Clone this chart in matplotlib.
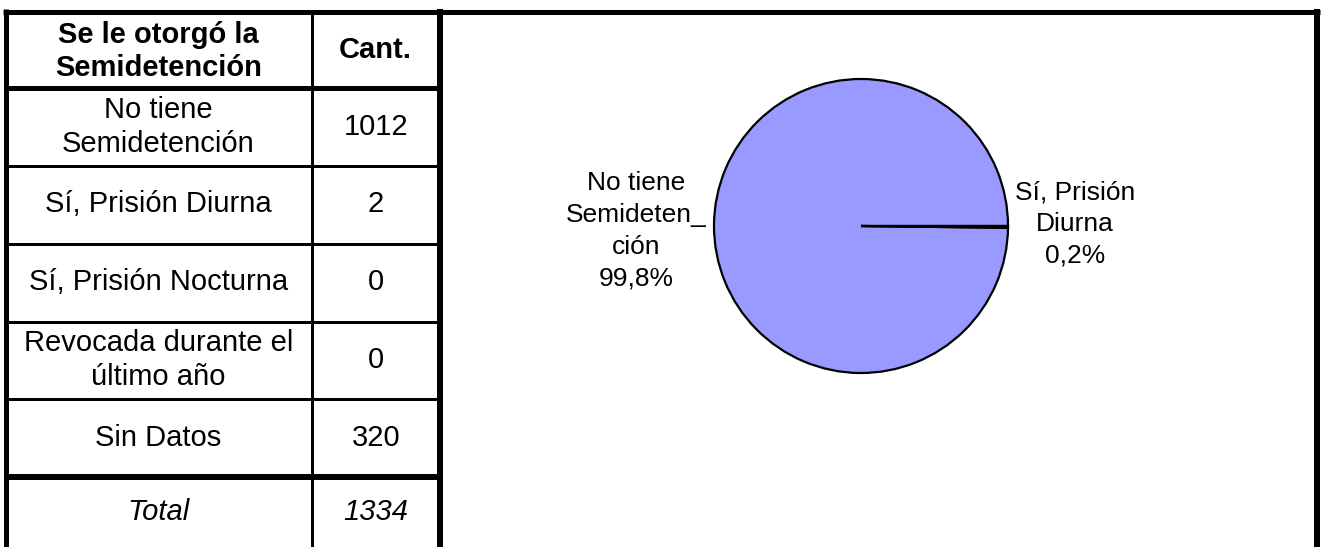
import matplotlib
matplotlib.use("Agg")
import matplotlib.pyplot as plt

plt.rcParams['font.family'] = ['Liberation Sans', 'DejaVu Sans']

# ---- data ----
header = ["Se le otorgó la\nSemidetención", "Cant."]
categories = ["No tiene\nSemidetención", "Sí, Prisión Diurna", "Sí, Prisión Nocturna",
              "Revocada durante el\núltimo año", "Sin Datos"]
counts = [1012, 2, 0, 0, 320]
total_label = "Total"
total_value = 1334

# pie: categories with data (excludes "Sin Datos" and zero counts)
pie_labels = ["No tiene\nSemideten_\nción", "Sí, Prisión\nDiurna"]
pie_values = [1012, 2]
pie_color = "#9999FF"

# ---- figure ----
W, H = 1324, 547
DPI = 100
fig = plt.figure(figsize=(W / DPI, H / DPI), dpi=DPI)
fig.patch.set_facecolor("white")

bg = fig.add_axes([0, 0, 1, 1])
bg.set_xlim(0, W)
bg.set_ylim(H, 0)
bg.axis("off")

def px(lw):
    return lw * 72 / DPI

# layout (pixels)
x_left, x_div, x_tab_right, x_right = 5.5, 311.5, 440, 1317
y_top = 11.5
row_lines = [88, 165.5, 243.5, 321.5, 399, 476.5]
y_bottom = H + 2

# frame lines
bg.plot([3, 1320], [y_top, y_top], color="black", lw=px(5), solid_capstyle="butt")
bg.plot([x_left, x_left], [9, y_bottom], color="black", lw=px(5), solid_capstyle="butt")
bg.plot([x_div, x_div], [y_top, y_bottom], color="black", lw=px(3), solid_capstyle="butt")
bg.plot([x_tab_right, x_tab_right], [9, y_bottom], color="black", lw=px(6), solid_capstyle="butt")
bg.plot([x_right, x_right], [9, y_bottom], color="black", lw=px(6), solid_capstyle="butt")

line_w = [5, 3, 3, 3, 3, 6]
for y, lw in zip(row_lines, line_w):
    bg.plot([x_left, x_tab_right], [y, y], color="black", lw=px(lw), solid_capstyle="butt")

# table text
col1_x = (x_left + x_div) / 2
col2_x = (x_div + x_tab_right) / 2
bounds = [y_top] + row_lines + [H]
centers = [(a + b) / 2 for a, b in zip(bounds[:-1], bounds[1:])]
fs = 21
ls = 1.27

bg.text(col1_x, centers[0] + 2, header[0], ha="center", va="center", fontsize=fs,
        fontweight="bold", linespacing=1.22)
bg.text(col2_x, centers[0], header[1], ha="center", va="center", fontsize=fs,
        fontweight="bold")
for i, (cat, val) in enumerate(zip(categories, counts)):
    yc = centers[i + 1]
    bg.text(col1_x, yc, cat, ha="center", va="center", fontsize=fs, linespacing=ls)
    bg.text(col2_x, yc, str(val), ha="center", va="center", fontsize=fs)
bg.text(col1_x, centers[-1], total_label, ha="center", va="center", fontsize=fs, style="italic")
bg.text(col2_x, centers[-1], str(total_value), ha="center", va="center", fontsize=fs, style="italic")

# ---- pie ----
cx, cy, r = 861, 226, 147
pie_ax = fig.add_axes([(cx - r) / W, (H - cy - r) / H, 2 * r / W, 2 * r / H])
wedges, _ = pie_ax.pie(pie_values, colors=[pie_color] * len(pie_values), startangle=0,
                       counterclock=True,
                       wedgeprops=dict(edgecolor="black", linewidth=1.6))
for w in wedges:
    w.set_clip_on(False)
pie_ax.set_xlim(-1, 1)
pie_ax.set_ylim(-1, 1)
pie_ax.set_aspect("equal")
pie_ax.axis("off")

pie_total = sum(pie_values)
pcts = [f"{v / pie_total * 100:.1f}%".replace(".", ",") for v in pie_values]
label_pos = [(636, 231), (1075, 224)]
for lab, pct, (lx, ly) in zip(pie_labels, pcts, label_pos):
    bg.text(lx, ly, f"{lab}\n{pct}", ha="center", va="center", fontsize=19,
            linespacing=1.42, multialignment="center")

fig.savefig("out.png", dpi=DPI, facecolor="white")
